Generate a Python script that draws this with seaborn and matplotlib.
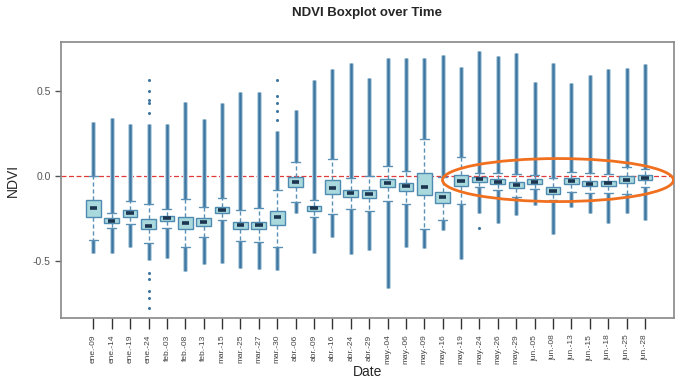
#!/usr/bin/env python3
"""NDVI boxplot over time, recreated with seaborn."""

import matplotlib
matplotlib.use("Agg")
import matplotlib.pyplot as plt
from matplotlib.patches import Ellipse
import numpy as np
import pandas as pd
import seaborn as sns

# acquisition dates (categorical x axis)
dates = [
    "ene.-09", "ene.-14", "ene.-19", "ene.-24", "feb.-03", "feb.-08", "feb.-13",
    "mar.-15", "mar.-25", "mar.-27", "mar.-30", "abr.-06", "abr.-09", "abr.-16",
    "abr.-24", "abr.-29", "may.-04", "may.-06", "may.-09", "may.-16", "may.-19",
    "may.-24", "may.-26", "may.-29", "jun.-05", "jun.-08", "jun.-13", "jun.-15",
    "jun.-18", "jun.-25", "jun.-28",
]

# box statistics
hi_cap = [0.0, -0.216, -0.147, -0.167, -0.196, -0.133, -0.184, -0.131, -0.2, -0.19,
          -0.082, 0.08, -0.141, 0.1, -0.014, 0.0, 0.059, 0.031, 0.218, -0.008,
          0.114, 0.016, 0.016, 0.012, 0.006, -0.014, 0.025, 0.016, 0.012, 0.055, 0.039]
q3 = [-0.141, -0.249, -0.202, -0.253, -0.235, -0.241, -0.249, -0.18, -0.269, -0.269,
      -0.208, -0.004, -0.175, -0.024, -0.082, -0.082, -0.02, -0.043, 0.02, -0.096,
      0.006, -0.008, -0.02, -0.033, -0.02, -0.067, -0.014, -0.029, -0.029, 0.0, 0.004]
med = [-0.19, -0.263, -0.22, -0.292, -0.249, -0.276, -0.271, -0.198, -0.288, -0.288,
       -0.24, -0.035, -0.19, -0.069, -0.102, -0.104, -0.043, -0.059, -0.067, -0.125,
       -0.029, -0.02, -0.033, -0.053, -0.033, -0.086, -0.031, -0.045, -0.043, -0.024, -0.012]
q1 = [-0.239, -0.278, -0.239, -0.312, -0.263, -0.31, -0.294, -0.216, -0.314, -0.314,
      -0.288, -0.067, -0.204, -0.106, -0.125, -0.129, -0.067, -0.088, -0.112, -0.161,
      -0.059, -0.033, -0.047, -0.073, -0.047, -0.106, -0.049, -0.061, -0.059, -0.043, -0.025]
lo_cap = [-0.376, -0.308, -0.284, -0.396, -0.304, -0.42, -0.357, -0.259, -0.384, -0.39,
          -0.416, -0.155, -0.239, -0.224, -0.194, -0.208, -0.145, -0.165, -0.31, -0.259,
          -0.165, -0.063, -0.082, -0.122, -0.078, -0.141, -0.092, -0.102, -0.098, -0.106, -0.063]

# extent of the dense outlier runs beyond the whiskers
hi_ext = [0.32, 0.339, 0.304, 0.306, 0.306, 0.433, 0.333, 0.427, 0.496, 0.492,
          0.265, 0.388, 0.565, 0.627, 0.667, 0.578, 0.692, 0.692, 0.692, 0.712,
          0.643, 0.737, 0.706, 0.725, 0.555, 0.667, 0.549, 0.594, 0.627, 0.633, 0.659]
lo_ext = [-0.451, -0.455, -0.416, -0.494, -0.484, -0.559, -0.518, -0.51, -0.543, -0.547,
          -0.553, -0.22, -0.455, -0.361, -0.461, -0.435, -0.661, -0.42, -0.425, -0.318,
          -0.49, -0.22, -0.275, -0.229, -0.171, -0.341, -0.18, -0.22, -0.278, -0.216, -0.259]

# isolated outliers
stray_date = ["ene.-24"] * 10 + ["mar.-30"] * 5 + ["may.-24"]
stray_val = [0.565, 0.502, 0.447, 0.427, 0.369, -0.572, -0.608, -0.675, -0.72, -0.778,
             0.565, 0.47, 0.43, 0.38, 0.33, -0.308]

BOX_FILL = "#a9d9dd"
BOX_EDGE = "#4f8bb0"
OUT_CORE = "#3d76a0"
OUT_HALO = "#bcd5e4"

rows = []
for i, d in enumerate(dates):
    for v in (lo_cap[i], q1[i], med[i], q3[i], hi_cap[i]):
        rows.append({"date": d, "ndvi": v})
df = pd.DataFrame(rows)

sns.set_style("white")
plt.rcParams["font.family"] = ["Liberation Sans", "DejaVu Sans"]

fig = plt.figure(figsize=(6.83, 3.81), dpi=100)
ax = fig.add_axes([0.0893, 0.1654, 0.8975, 0.7244])

pos = np.arange(len(dates))
ax.vlines(pos, hi_cap, hi_ext, color=OUT_HALO, lw=3.6, zorder=1)
ax.vlines(pos, hi_cap, hi_ext, color=OUT_CORE, lw=1.8, zorder=1.5)
ax.vlines(pos, lo_cap, lo_ext, color=OUT_HALO, lw=3.6, zorder=1)
ax.vlines(pos, lo_cap, lo_ext, color=OUT_CORE, lw=1.8, zorder=1.5)

sns.stripplot(x=stray_date, y=stray_val, order=dates, jitter=False, ax=ax,
              color=OUT_CORE, size=2.2, linewidth=0, zorder=2)

sns.boxplot(
    data=df, x="date", y="ndvi", order=dates, ax=ax,
    whis=(0, 100), width=0.8, saturation=1, showfliers=False,
    color=BOX_FILL, linecolor=BOX_EDGE, linewidth=1.0,
    medianprops=dict(color="#1c3550", linewidth=2.6),
    whiskerprops=dict(color="#5a90b5", linewidth=1.0, linestyle=(0, (3, 2))),
    capprops=dict(color="#5a90b5", linewidth=1.0),
)

# shorten the median bars and widen the caps a little, as in the original
bp = ax.containers[-1]
for line in bp.medians:
    x = np.asarray(line.get_xdata(), dtype=float)
    c = x.mean()
    line.set_xdata(c + (x - c) * 0.5)
for line in bp.caps:
    x = np.asarray(line.get_xdata(), dtype=float)
    c = x.mean()
    line.set_xdata(c + (x - c) * 1.2)

ax.axhline(0, color="#e03a3a", lw=0.9, ls=(0, (4, 2)), zorder=0.5)

# highlight of the dates hovering near zero
ell = Ellipse((25.27, -0.024), 12.56, 0.253, fill=False,
              edgecolor="#f07020", lw=2.0, zorder=5)
ax.add_patch(ell)

ax.set_xlim(-1.76, 31.58)
ax.set_ylim(-0.835, 0.788)
ax.set_yticks([-0.5, 0.0, 0.5])
ax.set_yticklabels(["-0.5", "0.0", "0.5"])
ax.tick_params(axis="y", labelsize=7.5, colors="#555555", length=4, width=1,
               direction="out", left=True)
ax.tick_params(axis="x", labelsize=6.0, labelcolor="#444444", color="#333333",
               length=8, width=1, direction="out", bottom=True, labelrotation=90, pad=4)
for s in ax.spines.values():
    s.set_color("#888888")
    s.set_linewidth(1.2)

ax.set_xlabel("Date", fontsize=10)
ax.xaxis.set_label_coords(0.5, -0.196)
ax.xaxis.label.set_va("center")
ax.set_ylabel("NDVI", fontsize=10)
ax.yaxis.set_label_coords(-0.078, 0.5)
ax.yaxis.label.set_va("center")
ax.set_title("NDVI Boxplot over Time", fontsize=9.5, fontweight="bold", pad=19)

fig.savefig("out.png", dpi=100)
